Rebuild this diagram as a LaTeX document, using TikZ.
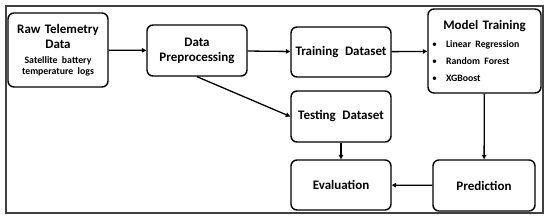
\documentclass[tikz,border=0pt]{standalone}
\usepackage{fontspec}
\setmainfont{Carlito}
\usetikzlibrary{positioning,arrows.meta}

\begin{document}
\begin{tikzpicture}[x=1pt, y=-1pt,
    stageBox/.style={rectangle, rounded corners=6pt, draw=black, fill=white, line width=1.4pt, font=\fontsize{13}{15}\selectfont\bfseries, align=center, text width=94pt, inner sep=3pt, minimum width=100pt, minimum height=51pt},
    arrowStyle/.style={-{Triangle[length=4.5pt,width=4.5pt]}, line width=1.3pt, draw=black}
]
    \useasboundingbox (0,0) rectangle (550,220);
    \draw[line width=1.1pt, draw=black!75] (6,6) rectangle (543,213);

    \node[stageBox, minimum height=74pt] (raw) at (58,50) {
        Raw Telemetry\\Data\par\vspace{4pt}
        {\fontsize{9.8}{11}\selectfont Satellite battery\\temperature logs\par}
    };
    \node[stageBox] (prep) at (197,50.5) {Data\\Preprocessing};
    \node[stageBox, minimum height=50pt] (train) at (341,52) {Training\hspace{0.5em}Dataset};
    \node[stageBox, text width=107pt, minimum width=113pt, minimum height=84pt] (model) at (484.5,51) {
        Model Training\par\vspace{1pt}
        {\fontsize{9.8}{17}\selectfont\raggedright
        \makebox[15pt][l]{\hspace{1pt}\mdseries\textbullet}Linear Regression\\
        \makebox[15pt][l]{\hspace{1pt}\mdseries\textbullet}Random Forest\\
        \makebox[15pt][l]{\hspace{1pt}\mdseries\textbullet}XGBoost\par}
    };
    \node[stageBox] (test) at (341,116.5) {Testing\hspace{0.5em}Dataset};
    \node[stageBox, minimum height=50pt] (eval) at (341,185) {Evaluation};
    \node[stageBox, minimum width=102pt] (pred) at (484,185.5) {Prediction};

    \draw[arrowStyle] (raw) -- (prep);
    \draw[arrowStyle] (prep) -- (train);
    \draw[arrowStyle] (train) -- (model);
    \draw[arrowStyle] (prep.south) -- (test.west);
    \draw[arrowStyle] (test) -- (eval);
    \draw[arrowStyle] (model) -- (pred);
    \draw[arrowStyle] (pred) -- (eval);
\end{tikzpicture}
\end{document}
